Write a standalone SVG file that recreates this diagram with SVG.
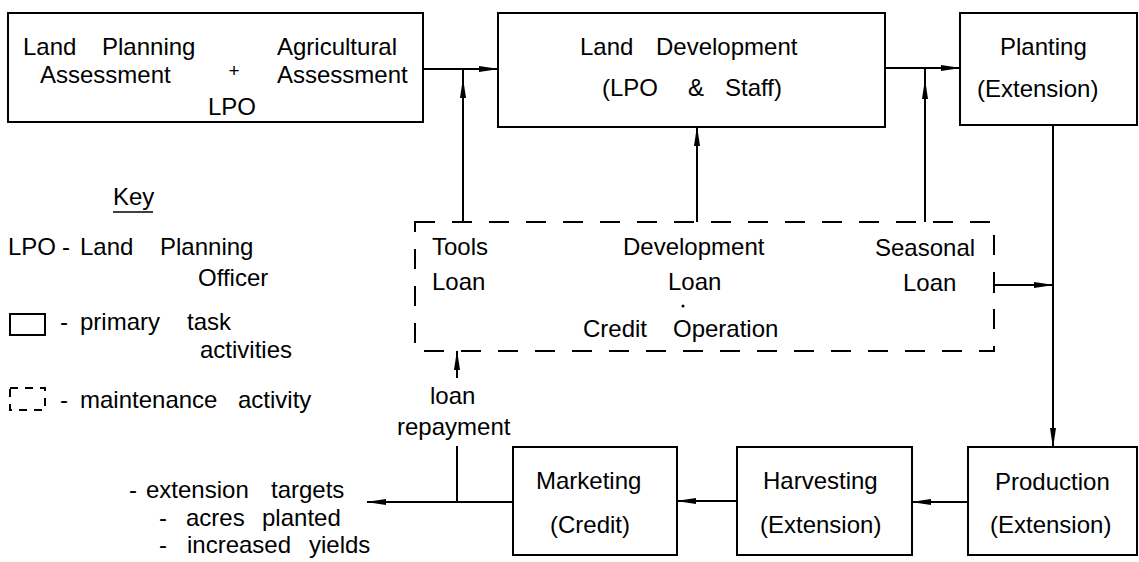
<svg xmlns="http://www.w3.org/2000/svg" width="1139" height="562" viewBox="0 0 1139 562">
<style>
text{font-family:"Liberation Sans",Arial,sans-serif;font-size:24px;fill:#000}
.box{fill:none;stroke:#000;stroke-width:2}
.dash{fill:none;stroke:#000;stroke-width:2;stroke-dasharray:20 17}
.ln{fill:none;stroke:#000;stroke-width:2}
.arr{fill:none;stroke:#000;stroke-width:2;marker-end:url(#ah)}
</style>
<defs>
<marker id="ah" viewBox="0 0 20 8" refX="19" refY="4" markerWidth="20" markerHeight="8" markerUnits="userSpaceOnUse" orient="auto">
<path d="M0,1 L20,4 L0,7 Z" fill="#000"/>
</marker>
</defs>
<rect width="1139" height="562" fill="#fff"/>

<g id="n-assessment">
<rect class="box" x="8" y="13" width="415" height="109"/>
<text y="55"><tspan x="23">Land</tspan><tspan x="102">Planning</tspan></text>
<text x="277" y="55">Agricultural</text>
<text x="40" y="83">Assessment</text>
<text x="234" y="77" style="font-size:19px" text-anchor="middle">+</text>
<text x="277" y="83">Assessment</text>
<text x="208" y="115">LPO</text>
</g>

<g id="n-landdev">
<rect class="box" x="498" y="13" width="387" height="114"/>
<text y="55"><tspan x="580">Land</tspan><tspan x="656">Development</tspan></text>
<text y="96"><tspan x="602">(LPO</tspan><tspan x="688">&amp;</tspan><tspan x="725">Staff)</tspan></text>
</g>

<g id="n-planting">
<rect class="box" x="960" y="13" width="177" height="112"/>
<text x="1000" y="55">Planting</text>
<text x="977" y="97">(Extension)</text>
</g>

<g id="n-credit">
<rect class="dash" x="415" y="222" width="579" height="129"/>
<text x="432" y="255">Tools</text>
<text x="432" y="290">Loan</text>
<text x="623" y="255">Development</text>
<text x="668" y="290">Loan</text>
<circle cx="683" cy="306" r="1.5" fill="#000"/>
<text y="337"><tspan x="583">Credit</tspan><tspan x="673">Operation</tspan></text>
<text x="875" y="256">Seasonal</text>
<text x="903" y="291">Loan</text>
</g>

<g id="n-production">
<rect class="box" x="968" y="447" width="169" height="108"/>
<text x="995" y="490">Production</text>
<text x="990" y="533">(Extension)</text>
</g>

<g id="n-harvesting">
<rect class="box" x="737" y="447" width="175" height="108"/>
<text x="763" y="489">Harvesting</text>
<text x="760" y="533">(Extension)</text>
</g>

<g id="n-marketing">
<rect class="box" x="513" y="447" width="164" height="108"/>
<text x="536" y="489">Marketing</text>
<text x="550" y="533">(Credit)</text>
</g>

<g id="key">
<text x="113" y="205">Key</text>
<line class="ln" x1="113" y1="212" x2="153" y2="212" style="stroke-width:1.5"/>
<text y="255"><tspan x="8">LPO</tspan><tspan x="62">-</tspan><tspan x="80">Land</tspan><tspan x="160">Planning</tspan></text>
<text x="198" y="286">Officer</text>
<rect class="box" x="10" y="314" width="35" height="21"/>
<text y="330"><tspan x="60">-</tspan><tspan x="80">primary</tspan><tspan x="187">task</tspan></text>
<text x="200" y="358">activities</text>
<rect x="10" y="388" width="35" height="22" style="fill:none;stroke:#000;stroke-width:2;stroke-dasharray:8 7"/>
<text y="408"><tspan x="60">-</tspan><tspan x="80">maintenance</tspan><tspan x="238">activity</tspan></text>
</g>

<g id="outputs">
<text y="498"><tspan x="129">-</tspan><tspan x="146">extension</tspan><tspan x="271">targets</tspan></text>
<text y="526"><tspan x="159">-</tspan><tspan x="186">acres</tspan><tspan x="262">planted</tspan></text>
<text y="553"><tspan x="159">-</tspan><tspan x="187">increased</tspan><tspan x="309">yields</tspan></text>
<text x="430" y="404">loan</text>
<text x="397" y="435">repayment</text>
</g>

<g id="connectors">
<path class="arr" d="M423,69 H498"/>
<path class="arr" d="M463,222 V79"/>
<path class="ln" d="M463,80 V69"/>
<path class="arr" d="M697,222 V127"/>
<path class="arr" d="M925,222 V80"/>
<path class="ln" d="M925,81 V68"/>
<path class="arr" d="M885,68 H960"/>
<path class="arr" d="M1053,125 V447"/>
<path class="arr" d="M994,285 H1053"/>
<path class="ln" d="M994,277 V293"/>
<path class="arr" d="M968,502 H912"/>
<path class="arr" d="M737,501 H677"/>
<path class="arr" d="M513,502 H367"/>
<path class="ln" d="M457,502 V446"/>
<path class="arr" d="M457,378 V351"/>
</g>
</svg>
